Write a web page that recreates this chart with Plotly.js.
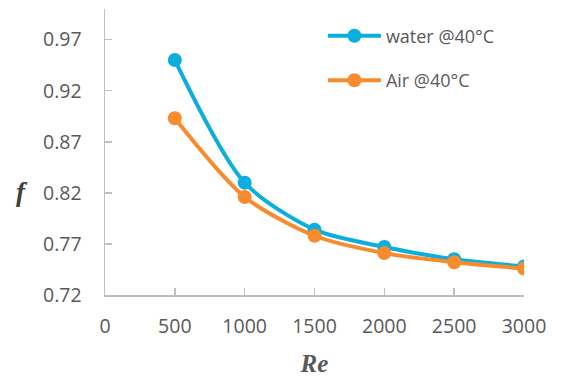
<!DOCTYPE html>
<html>
<head>
<meta charset="utf-8">
<script src="https://cdn.plot.ly/plotly-3.0.1.min.js"></script>
<style>html,body{margin:0;padding:0;background:#fff;}#chart{width:562px;height:377px;}</style>
</head>
<body>
<div id="chart"></div>
<script>
var reynolds = [500, 1000, 1500, 2000, 2500, 3000];
var waterF = [0.950, 0.830, 0.784, 0.767, 0.755, 0.748];
var airF = [0.893, 0.816, 0.778, 0.761, 0.752, 0.746];
var seriesNames = ['water @40°C', 'Air @40°C'];
var xTicks = [0, 500, 1000, 1500, 2000, 2500, 3000];
var yTicks = [0.72, 0.77, 0.82, 0.87, 0.92, 0.97];

var traces = [
  {x: reynolds, y: waterF, name: seriesNames[0], type: 'scatter', mode: 'lines+markers',
   line: {color: '#0BAEDD', width: 4, shape: 'spline', smoothing: 0.8},
   marker: {color: '#0BAEDD', size: 14}, legendgroup: 'a'},
  {x: reynolds, y: airF, name: seriesNames[1], type: 'scatter', mode: 'lines+markers',
   line: {color: '#F78B2E', width: 4, shape: 'spline', smoothing: 0.8},
   marker: {color: '#F78B2E', size: 14}, legendgroup: 'b'}
];

var layout = {
  width: 562, height: 377,
  margin: {l: 105, r: 38, t: 9, b: 82},
  paper_bgcolor: '#fff', plot_bgcolor: '#fff',
  font: {family: 'Open Sans, sans-serif', color: '#595959', size: 19},
  showlegend: true,
  legend: {x: 0.52, y: 0.97, xanchor: 'left', yanchor: 'top', bgcolor: 'rgba(0,0,0,0)',
           font: {size: 18, color: '#595959'}, traceorder: 'grouped', tracegroupgap: 18,
           itemwidth: 53},
  xaxis: {range: [0, 3000], tickvals: xTicks, ticktext: xTicks.map(String),
          showgrid: false, zeroline: false, showline: true, linecolor: '#BFBFBF', linewidth: 1.5,
          ticks: 'inside', ticklen: 7, tickcolor: '#BFBFBF', tickwidth: 1.5,
          tickfont: {size: 19.5, color: '#595959'}, ticklabelstandoff: 13,
          title: {text: '<b><i>Re</i></b>', font: {family: 'Liberation Serif, serif', size: 25, color: '#595959'}, standoff: 16},
          fixedrange: true},
  yaxis: {range: [0.72, 1.0], tickvals: yTicks, ticktext: yTicks.map(function(v){return v.toFixed(2);}),
          showgrid: false, zeroline: false, showline: true, linecolor: '#BFBFBF', linewidth: 1.5,
          ticks: 'inside', ticklen: 7, tickcolor: '#BFBFBF', tickwidth: 1.5,
          tickfont: {size: 19.5, color: '#595959'}, ticklabelstandoff: 18, fixedrange: true},
  annotations: [{text: '<b><i>f</i></b>', xref: 'paper', yref: 'paper', x: -0.197, y: 0.36,
                 xanchor: 'center', yanchor: 'middle', showarrow: false,
                 font: {family: 'Liberation Serif, serif', size: 27, color: '#404040'}}]
};

Plotly.newPlot('chart', traces, layout, {displayModeBar: false, staticPlot: true});
</script>
</body>
</html>
